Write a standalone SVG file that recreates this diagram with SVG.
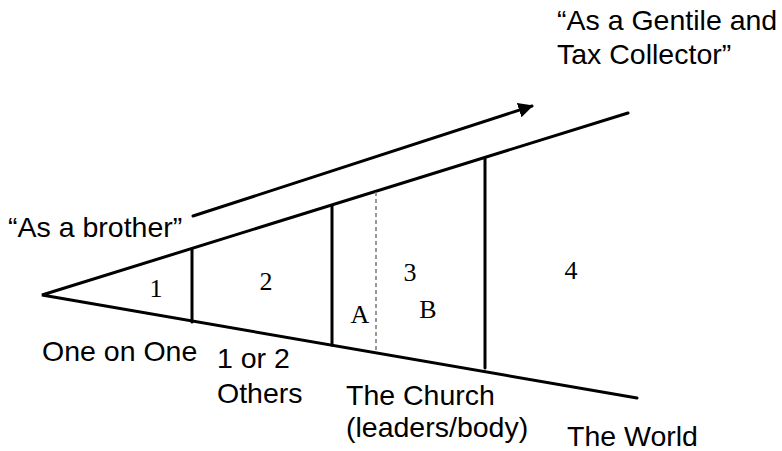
<svg xmlns="http://www.w3.org/2000/svg" width="782" height="451" viewBox="0 0 782 451">
<defs>
<style>
.ln{stroke:#000;stroke-width:3;fill:none;stroke-linecap:round}
.lbl{font-family:"Liberation Sans",Arial,sans-serif;font-size:28.5px;fill:#000}
.num{font-family:"Liberation Serif","Times New Roman",serif;font-size:26px;fill:#000;text-anchor:middle}
</style>
<marker id="ah" viewBox="0 0 10 10" refX="9" refY="5" markerWidth="5" markerHeight="5" orient="auto" markerUnits="strokeWidth">
<path d="M0,0 L10,5 L0,10 z" fill="#000"/>
</marker>
</defs>
<rect width="782" height="451" fill="#fff"/>
<g id="connectors">
<line class="ln" x1="193" y1="216" x2="532" y2="106" marker-end="url(#ah)"/>
</g>
<g id="wedge">
<polyline class="ln" points="628,113 42,295 637,398"/>
<line class="ln" x1="192" y1="249" x2="192" y2="322"/>
<line class="ln" x1="332" y1="206" x2="332" y2="345"/>
<line x1="376" y1="192" x2="376" y2="353" stroke="#777" stroke-width="1.5" stroke-dasharray="4,3"/>
<line class="ln" x1="485" y1="158" x2="485" y2="368"/>
</g>
<g id="numbers">
<text class="num" x="156" y="297">1</text>
<text class="num" x="266" y="290">2</text>
<text class="num" x="410" y="281">3</text>
<text class="num" x="571" y="279">4</text>
<text class="num" x="360" y="323">A</text>
<text class="num" x="428" y="318">B</text>
</g>
<g id="labels">
<text class="lbl" x="8" y="237">“As a brother”</text>
<text class="lbl" x="557" y="30">“As a Gentile and</text>
<text class="lbl" x="557" y="64">Tax Collector”</text>
<text class="lbl" x="42" y="361">One on One</text>
<text class="lbl" x="217" y="368">1 or 2</text>
<text class="lbl" x="217" y="403">Others</text>
<text class="lbl" x="346" y="405">The Church</text>
<text class="lbl" x="346" y="437">(leaders/body)</text>
<text class="lbl" x="567" y="446">The World</text>
</g>
</svg>
